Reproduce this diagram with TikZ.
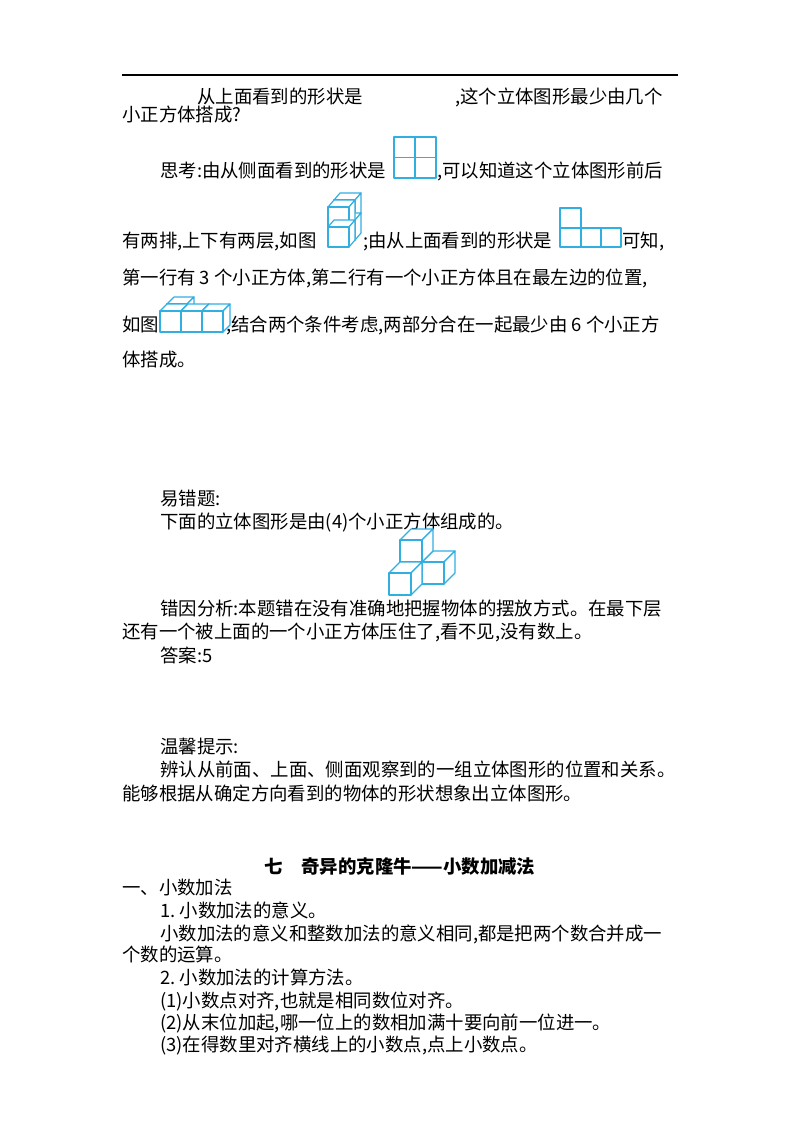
\documentclass[tikz,border=0pt]{standalone}
\usepackage{fontspec}
\setmainfont{Noto Sans CJK SC}
\definecolor{cc}{RGB}{50,175,225}
\tikzset{cubest/.style={draw=cc,fill=white,line width=0.9pt,line join=round},
 tx/.style={anchor=base west,inner sep=0pt,font=\fontsize{13.8}{16}\selectfont}}
\newcommand\cb[6]{%
 \filldraw[cubest] (#1,#2)--++(#5,#6)--++(#3,0)--++(-#5,-#6)--cycle;
 \filldraw[cubest] (#1+#3,#2)--++(#5,#6)--++(0,#4)--++(-#5,-#6)--cycle;
 \filldraw[cubest] (#1,#2) rectangle ++(#3,#4);}
\begin{document}
\begin{tikzpicture}[x=0.75pt,y=-0.75pt]
\useasboundingbox (0,0) rectangle (800,1132);
\draw[line width=0.8pt] (122,75) coordinate (r1) -- (678,75) coordinate (r2);
\node[tx] (l1a) at (197,103) {从上面看到的形状是};
\node[tx] (l1b) at (455,103) {,这个立体图形最少由几个};
\node[tx] (l2) at (122,121) {小正方体搭成?};
\node[tx] (l3a) at (160,177) {思考:由从侧面看到的形状是};
\node[tx] (l3b) at (437,177) {,可以知道这个立体图形前后};
\node[tx] (l4a) at (122,247) {有两排,上下有两层,如图};
\node[tx] (l4b) at (363,247) {;由从上面看到的形状是};
\node[tx] (l4c) at (622,247) {可知,};
\node[tx] (l5) at (122,284) {第一行有 3 个小正方体,第二行有一个小正方体且在最左边的位置,};
\node[tx] (l6a) at (122,331) {如图};
\node[tx] (l6b) at (226,331) {;结合两个条件考虑,两部分合在一起最少由 6 个小正方};
\node[tx] (l7) at (122,366) {体搭成。};
\node[tx] (m1) at (160,505) {易错题:};
\node[tx] (m2) at (160,528) {下面的立体图形是由(4)个小正方体组成的。};
\node[tx] (m3) at (160,615) {错因分析:本题错在没有准确地把握物体的摆放方式。在最下层};
\node[tx] (m4) at (122,638) {还有一个被上面的一个小正方体压住了,看不见,没有数上。};
\node[tx] (m5) at (160,662) {答案:5};
\node[tx] (w1) at (160,753) {温馨提示:};
\node[tx] (w2) at (160,776) {辨认从前面、上面、侧面观察到的一组立体图形的位置和关系。};
\node[tx] (w3) at (122,800) {能够根据从确定方向看到的物体的形状想象出立体图形。};
\node[tx,anchor=base,font=\fontsize{13.8}{16}\selectfont\bfseries] (t) at (400,873) {七\quad 奇异的克隆牛——小数加减法};
\node[tx] (s1) at (122,894) {一、小数加法};
\node[tx] (s2) at (160,917) {1.\ 小数加法的意义。};
\node[tx] (s3) at (160,940) {小数加法的意义和整数加法的意义相同,都是把两个数合并成一};
\node[tx] (s4) at (122,961) {个数的运算。};
\node[tx] (s5) at (160,984) {2.\ 小数加法的计算方法。};
\node[tx] (s6) at (160,1007) {(1)小数点对齐,也就是相同数位对齐。};
\node[tx] (s7) at (160,1029) {(2)从末位加起,哪一位上的数相加满十要向前一位进一。};
\node[tx] (s8) at (160,1051) {(3)在得数里对齐横线上的小数点,点上小数点。};
% fig 1: side view 2x2
\draw[cubest] (394,137) rectangle (436,178);
\draw[cubest] (415,137)--(415,178) (394,157.5)--(436,157.5);
% fig 2: 2x2 stack
\cb{334}{200}{21}{20}{6}{-7}
\cb{334}{220}{21}{20}{6}{-7}
\cb{328}{207}{21}{20}{6}{-7}
\cb{328}{227}{21}{20}{6}{-7}
% fig 3: top view
\draw[cubest] (560,208) rectangle (581,228);
\draw[cubest] (560,228) rectangle (621,247);
\draw[cubest] (581,228)--(581,247) (601,228)--(601,247);
% fig 4
\cb{167}{304}{20}{23}{7}{-7}
\cb{160}{311}{21}{21}{7}{-7}
\cb{181}{311}{21}{21}{7}{-7}
\cb{202}{311}{21}{21}{7}{-7}
% fig 5
\cb{422}{562}{22}{22}{11}{-11}
\cb{400}{540}{22}{22}{11}{-11}
\cb{389}{573}{22}{22}{11}{-11}
\end{tikzpicture}
\end{document}
